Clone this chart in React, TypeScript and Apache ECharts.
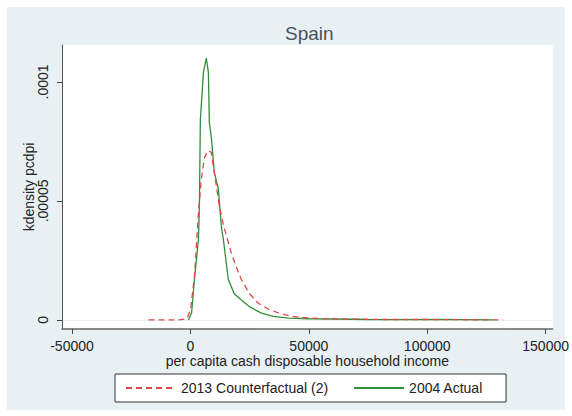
import React, { useEffect, useRef } from "react";
import * as echarts from "echarts";

const chartTitle = "Spain";
const xAxisTitle = "per capita cash disposable household income";
const yAxisTitle = "kdensity pcdpi";
const seriesNames = ["2013 Counterfactual (2)", "2004 Actual"];
const xTicks = [-50000, 0, 50000, 100000, 150000];
const yTicks = [0, 0.00005, 0.0001];
const yTickLabels = ["0", ".00005", ".0001"];
const gridValues = [0.00005, 0.0001];

const counterfactualX = [-17700, -5000, -1500, 0, 1700, 3400, 4600, 5900, 7200, 8800, 10100, 12200, 13900, 15600, 17300, 19500, 21500, 25000, 28700, 33000, 37100, 42000, 46800, 55000, 65000, 80000, 100000, 115000, 132000];
const counterfactualY = [0, 0, 0.0000005, 0.000004, 0.000018, 0.000045, 0.000059, 0.000068, 0.000071, 0.0000705, 0.000062, 0.000048, 0.00004, 0.000034, 0.000028, 0.000022, 0.000017, 0.000011, 0.000007, 0.0000045, 0.000003, 0.0000017, 0.000001, 0.0000006, 0.0000004, 0.0000002, 0.0000002, 0.0000001, 0];

const actualX = [-800, 500, 1700, 3400, 3800, 4200, 5500, 6700, 7600, 8000, 8900, 10100, 11800, 13100, 13900, 16000, 18500, 21500, 25000, 30000, 35000, 41400, 50000, 60000, 75000, 90000, 106000, 115000, 128000];
const actualY = [0, 0.000003, 0.000017, 0.000034, 0.000048, 0.000084, 0.000104, 0.00011, 0.000104, 0.000083, 0.000076, 0.000062, 0.000055, 0.000039, 0.000034, 0.000017, 0.000011, 0.0000084, 0.0000055, 0.0000029, 0.0000015, 0.0000008, 0.0000005, 0.0000004, 0.0000002, 0.0000001, 0.0000002, 0.0000001, 0];

const FONT = "Liberation Sans, Arial, sans-serif";

export default function App() {
  const ref = useRef<HTMLDivElement>(null);
  useEffect(() => {
    if (!ref.current) return;
    const chart = echarts.init(ref.current, null, { renderer: "svg" });
    const zip = (xs: number[], ys: number[]) => xs.map((x, i) => [x, ys[i]]);
    chart.setOption({
      animation: false,
      backgroundColor: "#ffffff",
      textStyle: { fontFamily: FONT },
      graphic: [
        {
          type: "rect",
          z: -100,
          silent: true,
          shape: { x: 7, y: 7, width: 558, height: 403 },
          style: { fill: "#e9f0f3" },
        },
      ],
      title: {
        text: chartTitle,
        left: 285,
        top: 24,
        padding: 0,
        textStyle: { fontFamily: FONT, fontSize: 19, fontWeight: "normal", color: "#4a525c" },
      },
      legend: {
        left: 115,
        top: 374,
        padding: [7, 23, 7, 10],
        itemWidth: 50,
        itemHeight: 14,
        itemGap: 25,
        backgroundColor: "#ffffff",
        borderColor: "#333333",
        borderWidth: 1,
        borderRadius: 0,
        itemStyle: { opacity: 0 },
        textStyle: { fontFamily: FONT, fontSize: 14, color: "#222222" },
        data: seriesNames,
      },
      grid: {
        left: 62,
        top: 45,
        width: 491,
        height: 284,
        show: true,
        backgroundColor: "#ffffff",
        borderWidth: 0,
      },
      xAxis: {
        type: "value",
        min: -54219,
        max: 152954,
        name: xAxisTitle,
        nameLocation: "middle",
        nameGap: 25,
        nameMoveOverlap: false,
        nameTextStyle: { fontFamily: FONT, fontSize: 14, color: "#222222", verticalAlign: "top" },
        axisLine: { onZero: false, lineStyle: { color: "#666666", width: 1.5 } },
        axisTick: { customValues: xTicks, length: 5, lineStyle: { color: "#444444" } },
        axisLabel: {
          customValues: xTicks,
          formatter: (v: number) => String(v),
          margin: 10,
          fontFamily: FONT,
          fontSize: 14,
          color: "#222222",
        },
        splitLine: { show: false },
      },
      yAxis: {
        type: "value",
        min: -0.0000038,
        max: 0.0001155,
        name: yAxisTitle,
        nameLocation: "middle",
        nameRotate: 90,
        nameGap: 26,
        nameMoveOverlap: false,
        nameTextStyle: { fontFamily: FONT, fontSize: 14, color: "#222222" },
        axisLine: { show: true, onZero: false, lineStyle: { color: "#555555", width: 1 } },
        axisTick: { show: true, customValues: yTicks, length: 5, lineStyle: { color: "#444444" } },
        axisLabel: {
          customValues: yTicks,
          rotate: 90,
          margin: 12,
          fontFamily: FONT,
          fontSize: 14,
          color: "#222222",
          formatter: (v: number) => {
            const i = yTicks.findIndex((t) => Math.abs(t - v) < 1e-9);
            return i >= 0 ? yTickLabels[i] : "";
          },
        },
        splitLine: { show: false },
      },
      series: [
        {
          name: seriesNames[0],
          type: "line",
          symbol: "none",
          showSymbol: false,
          data: zip(counterfactualX, counterfactualY),
          lineStyle: { color: "#e04848", width: 1.3, type: [6, 4] },
          itemStyle: { color: "#e04848" },
          markLine: {
            silent: true,
            symbol: "none",
            label: { show: false },
            lineStyle: { color: "#e6eef0", type: "solid", width: 1 },
            data: gridValues.map((v) => ({ yAxis: v })),
            z: 0,
          },
          z: 3,
        },
        {
          name: seriesNames[1],
          type: "line",
          symbol: "none",
          showSymbol: false,
          data: zip(actualX, actualY),
          lineStyle: { color: "#2f8f3a", width: 1.3 },
          itemStyle: { color: "#2f8f3a" },
          z: 2,
        },
      ],
    });
    return () => chart.dispose();
  }, []);
  return <div ref={ref} style={{ position: "fixed", left: 0, top: 0, width: 572, height: 416 }} />;
}
